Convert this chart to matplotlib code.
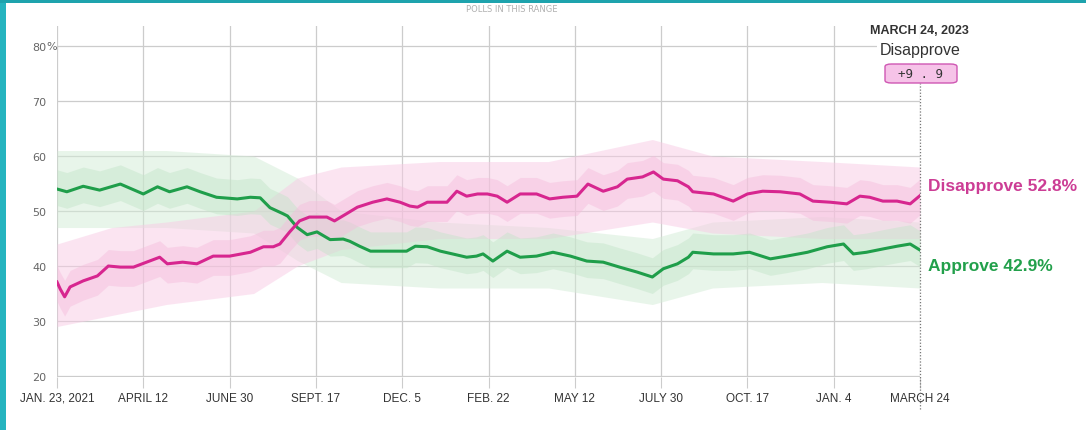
import numpy as np
import pandas as pd
import matplotlib
matplotlib.use("Agg")
import matplotlib.pyplot as plt
from matplotlib.patches import Rectangle, FancyBboxPatch

# ---- data ----
start = pd.Timestamp("2021-01-23")
end = pd.Timestamp("2023-03-24")

tick_labels = ["JAN. 23, 2021", "APRIL 12", "JUNE 30", "SEPT. 17", "DEC. 5", "FEB. 22",
               "MAY 12", "JULY 30", "OCT. 17", "JAN. 4", "MARCH 24"]
tick_days = [0, 79, 158, 237, 316, 395, 474, 553, 632, 711, 790]

approve_days = [0, 9, 24, 39, 58, 79, 92, 103, 119, 131, 146, 165, 177, 186, 195, 207, 211,
                220, 229, 238, 250, 262, 268, 277, 287, 296, 308, 320, 328, 339, 351, 362,
                375, 384, 390, 399, 412, 424, 439, 454, 470, 485, 500, 515, 531, 545, 555,
                568, 578, 582, 601, 619, 634, 653, 668, 687, 705, 720, 729, 741, 756, 769,
                781, 790]
approve = [54.0, 53.5, 54.5, 53.8, 54.9, 53.1, 54.4, 53.5, 54.4, 53.5, 52.5, 52.2, 52.5, 52.4,
           50.6, 49.5, 49.1, 47.0, 45.7, 46.2, 44.8, 44.9, 44.5, 43.6, 42.7, 42.7, 42.7, 42.7,
           43.6, 43.5, 42.7, 42.2, 41.6, 41.8, 42.2, 40.9, 42.7, 41.6, 41.8, 42.5, 41.8, 40.9,
           40.7, 39.8, 38.9, 38.0, 39.5, 40.4, 41.6, 42.5, 42.2, 42.2, 42.5, 41.3, 41.8, 42.5,
           43.5, 44.0, 42.2, 42.5, 43.1, 43.6, 44.0, 42.9]

disapprove_days = [0, 3, 7, 12, 24, 37, 47, 58, 70, 82, 94, 101, 115, 128, 143, 158, 177, 189,
                   198, 204, 213, 222, 231, 247, 254, 265, 275, 289, 302, 314, 323, 330, 339,
                   357, 366, 375, 385, 394, 403, 412, 424, 439, 451, 463, 476, 486, 500, 513,
                   522, 536, 546, 555, 568, 578, 582, 601, 619, 632, 646, 662, 680, 692, 708,
                   723, 735, 744, 756, 769, 781, 790]
disapprove = [37.1, 35.8, 34.4, 36.2, 37.3, 38.2, 40.0, 39.8, 39.8, 40.7, 41.6, 40.4, 40.7,
              40.4, 41.8, 41.8, 42.5, 43.5, 43.5, 44.0, 46.2, 48.2, 48.9, 48.9, 48.2, 49.5,
              50.7, 51.6, 52.2, 51.6, 50.9, 50.7, 51.6, 51.6, 53.6, 52.7, 53.1, 53.1, 52.7,
              51.6, 53.1, 53.1, 52.2, 52.5, 52.7, 54.9, 53.6, 54.4, 55.8, 56.2, 57.1, 55.8,
              55.5, 54.4, 53.5, 53.1, 51.8, 53.1, 53.6, 53.5, 53.1, 51.8, 51.6, 51.3, 52.7,
              52.5, 51.8, 51.8, 51.3, 52.8]

# spread of individual polls (outer extent of the dot clouds)
spread_days = [0, 50, 100, 180, 220, 260, 350, 450, 545, 600, 700, 790]
approve_lo = [47, 47, 47, 46, 41, 37, 36, 36, 33, 36, 37, 36]
approve_hi = [61, 61, 61, 60, 56, 50, 48, 47, 45, 48, 49, 48]
disapprove_lo = [29, 31, 33, 35, 40, 43, 45, 45, 48, 46, 45, 45]
disapprove_hi = [44, 47, 48, 50, 56, 58, 59, 59, 63, 60, 59, 58]

y_ticks = [20, 30, 40, 50, 60, 70, 80]

GREEN = "#1f9e4a"
PINK = "#d7268f"
GRID = "#cccccc"


def to_dates(days):
    return start + pd.to_timedelta(days, unit="D")


fig = plt.figure(figsize=(10.86, 4.31), dpi=100)
ax = fig.add_axes([57 / 1086, 1 - 378 / 431, (920 - 57) / 1086, 351 / 431])

# poll clouds
sd = to_dates(spread_days)
ax.fill_between(sd, approve_lo, approve_hi, color="#d3ecd6", alpha=0.5, lw=0, zorder=1)
ax.fill_between(sd, disapprove_lo, disapprove_hi, color="#f8cbe5", alpha=0.5, lw=0, zorder=1)
ad, dd = to_dates(approve_days), to_dates(disapprove_days)
ax.fill_between(ad, np.array(approve) - 3, np.array(approve) + 3.5,
                color="#c2e4c8", alpha=0.45, lw=0, zorder=1)
ax.fill_between(dd, np.array(disapprove) - 3.5, np.array(disapprove) + 3,
                color="#f5bcdc", alpha=0.45, lw=0, zorder=1)

# averages
ax.plot(ad, approve, color=GREEN, lw=2.2, zorder=3, solid_joinstyle="round")
ax.plot(dd, disapprove, color=PINK, lw=2.2, zorder=3, solid_joinstyle="round")

ax.set_xlim(start, end)
ax.set_ylim(19.82, 83.64)
for s in ax.spines.values():
    s.set_visible(False)

ax.set_xticks(to_dates(tick_days))
ax.set_xticklabels(tick_labels, family="Liberation Sans", fontsize=8.5, color="#333333")
ax.tick_params(axis="x", length=8, color=GRID, pad=2.5)
ax.set_yticks(y_ticks)
ax.set_yticklabels([str(v) for v in y_ticks], fontsize=8, color="#666666")
ax.tick_params(axis="y", length=0, pad=7.5)
ax.grid(True, color=GRID, lw=0.9, zorder=0)
ax.set_axisbelow(True)
ax.text(0.0, 80, "%", transform=ax.get_yaxis_transform(), fontsize=8,
        color="#666666", ha="right", va="center")

# end marker
ax.axvline(end, ymin=-0.09, ymax=0.838, color="#777777", lw=0.9, ls=(0, (1, 1.5)),
           clip_on=False, zorder=4)

# right hand labels
fig.text(928 / 1086, 1 - 187 / 431, "Disapprove 52.8%", color="#cc3d95", fontsize=12.5,
         fontweight="bold", family="Liberation Sans", va="center")
fig.text(928 / 1086, 1 - 267 / 431, "Approve 42.9%", color="#22a04b", fontsize=12.5,
         fontweight="bold", family="Liberation Sans", va="center")

# top annotation
fig.text(919 / 1086, 1 - 31 / 431, "MARCH 24, 2023", color="#333333", fontsize=9,
         fontweight="bold", family="Liberation Sans", ha="center", va="center")
fig.text(920 / 1086, 1 - 50 / 431, "Disapprove", color="#333333", fontsize=11.5,
         family="Liberation Sans", ha="center", va="center",
         bbox=dict(facecolor="white", edgecolor="none", pad=2))
box = FancyBboxPatch((885 / 1086, 1 - 84 / 431), 72 / 1086, 19 / 431,
                     boxstyle="round,pad=0,rounding_size=0.006", transform=fig.transFigure,
                     facecolor="#f6c3e8", edgecolor="#cf57b3", lw=1, zorder=5)
fig.add_artist(box)
fig.text(921 / 1086, 1 - 74.5 / 431, "+9 . 9", color="#333333", fontsize=9,
         family="DejaVu Sans Mono", ha="center", va="center", zorder=6)

# frame / header remnant
fig.text(512 / 1086, 1 - 9 / 431, "POLLS IN THIS RANGE", color="#b0b0b0", fontsize=6,
         ha="center", va="center", zorder=1)
fig.add_artist(Rectangle((0, 0), 6 / 1086, 1, transform=fig.transFigure,
                         facecolor="#26b4bf", edgecolor="none", zorder=10))
fig.add_artist(Rectangle((0, 1 - 4 / 431), 1, 4 / 431, transform=fig.transFigure,
                         facecolor="#1ea3ad", edgecolor="none", zorder=10))

fig.savefig("out.png", dpi=100)
